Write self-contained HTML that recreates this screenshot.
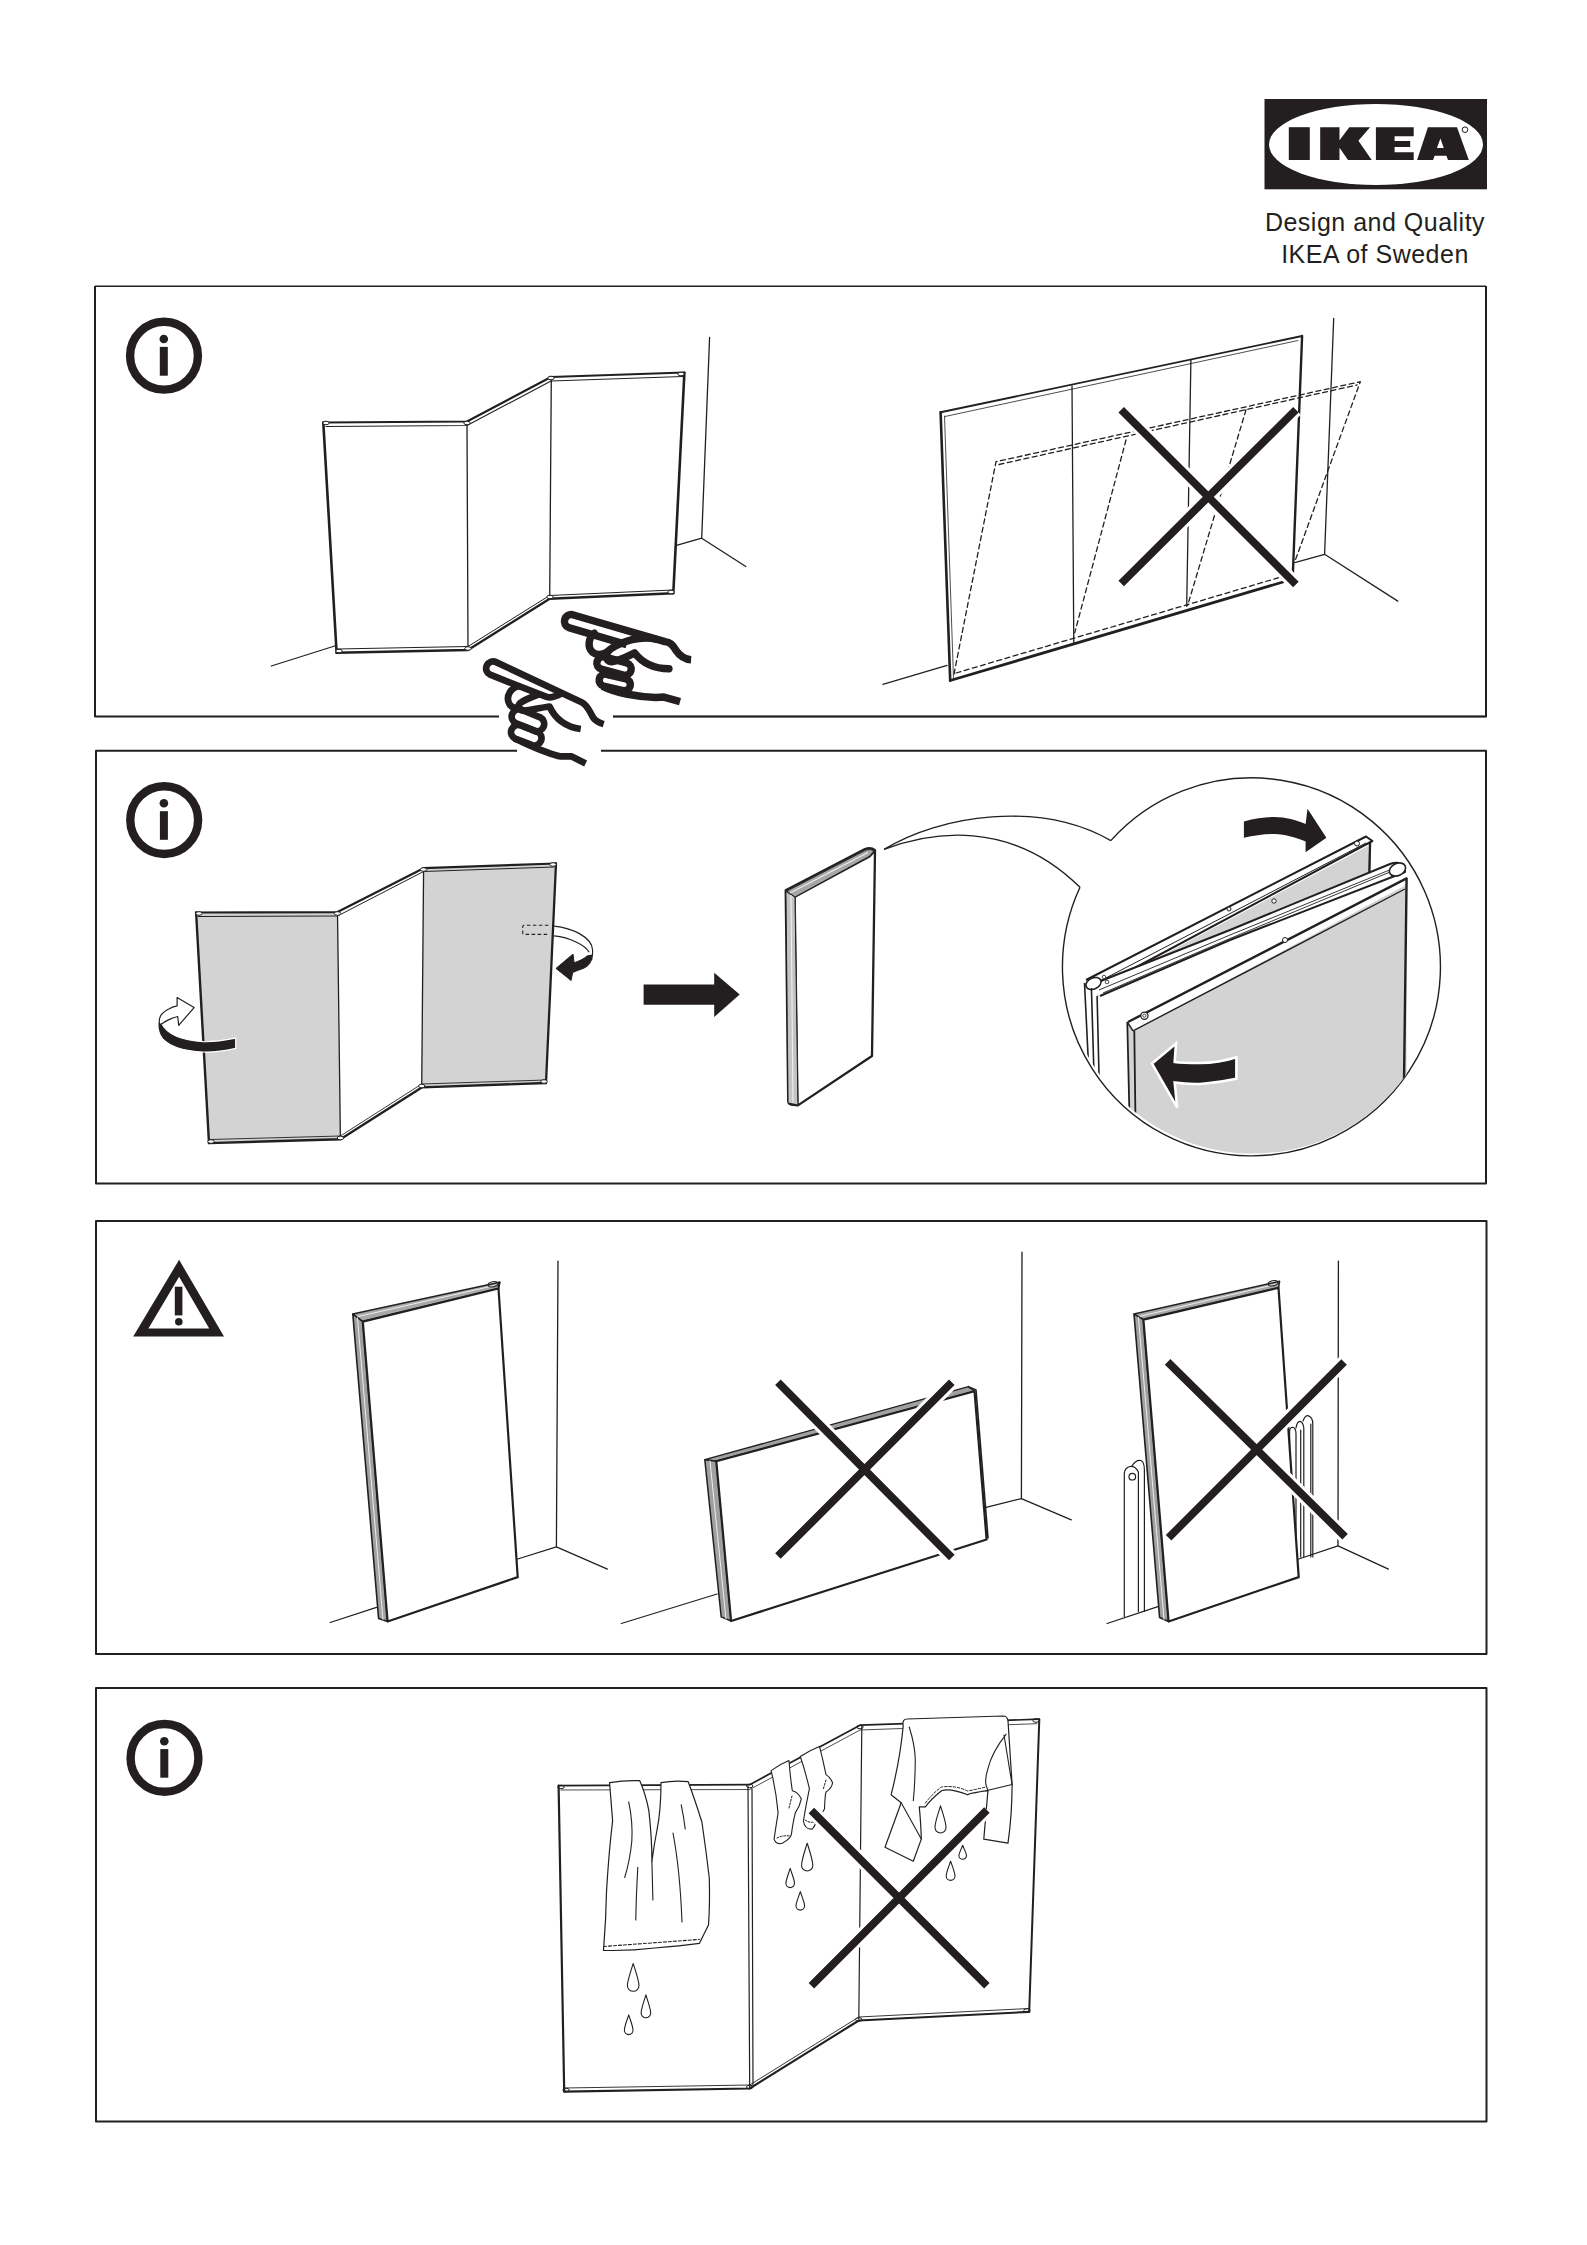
<!DOCTYPE html>
<html><head><meta charset="utf-8">
<style>
html,body{margin:0;padding:0;background:#fff;}
body{width:1587px;height:2245px;position:relative;overflow:hidden;font-family:"Liberation Sans",sans-serif;}
svg{position:absolute;left:0;top:0;}
.t{position:absolute;color:#231f20;font-size:25px;letter-spacing:0.5px;white-space:nowrap;text-align:center;line-height:32px;}
</style></head><body>
<svg width="1587" height="2245" viewBox="0 0 1587 2245" stroke-linejoin="round">
<defs>
<clipPath id="circ"><circle cx="1253" cy="965" r="188.5"/></clipPath>
</defs>
<!-- FRAMES -->
<g fill="none" stroke="#231f20" stroke-width="2">
<path d="M613,716.5 H1486 V286.3 M1486,286.3 H95" stroke-width="1.6"/><path d="M95,286 V716.5 H499 M613,716.5 H1486 V286"/>
<path d="M517,750.7 H96 V1183.4 H1486 V750.7 H601"/>
<rect x="96" y="1221" width="1390.5" height="433"/>
<rect x="96" y="1688" width="1390.5" height="433.6"/>
</g>
<!-- IKEA LOGO -->
<g fill="#231f20">
<rect x="1264.5" y="99" width="222.5" height="90.3"/>
<ellipse cx="1376" cy="144.5" rx="107" ry="40.5" fill="#fff"/>
<rect x="1288.8" y="127.2" width="21" height="32.8"/>
<polygon points="1320.2,127.2 1339.5,127.2 1339.5,140.2 1349.3,127.2 1370.1,127.2 1358.4,140.8 1371.7,160 1348,160 1339.5,147.7 1339.5,160 1320.2,160"/>
<polygon points="1375.9,127.3 1413.7,127.3 1413.7,136.3 1394.6,136.3 1394.6,141.1 1410.2,141.1 1410.2,147 1394.6,147 1394.6,152.2 1413.7,152.2 1413.7,159.9 1375.9,159.9"/>
<path d="M1417.1,159.9 L1427.9,127.3 L1457,127.3 L1468.8,159.9 L1448,159.9 L1446.4,155.7 L1434.6,155.7 L1433.1,159.9 Z M1440.4,138.4 L1436.9,148.1 L1443.8,148.1 Z" fill-rule="evenodd"/>
<circle cx="1465" cy="129.7" r="2.8" fill="none" stroke="#231f20" stroke-width="1"/>
</g>
<!-- ICONS -->
<g fill="#231f20">
<circle cx="164" cy="355.7" r="33.9" fill="none" stroke="#231f20" stroke-width="8.4"/><circle cx="163.8" cy="339" r="4.3"/><rect x="159.8" y="346.9" width="8" height="28.8"/>
<circle cx="164.2" cy="820.1" r="33.9" fill="none" stroke="#231f20" stroke-width="8.4"/><circle cx="163.9" cy="803.3" r="4.3"/><rect x="159.9" y="811.2" width="8" height="28.6"/>
<circle cx="164.5" cy="1757.9" r="33.9" fill="none" stroke="#231f20" stroke-width="8.4"/><circle cx="164.3" cy="1741.2" r="4.3"/><rect x="160.3" y="1749.1" width="8" height="28.6"/>
<path d="M179.1,1259.8 L224,1336.6 L133.2,1336.6 Z M179.1,1276.8 L148.4,1328.6 L209.2,1328.6 Z" fill-rule="evenodd"/>
<rect x="174.8" y="1286.7" width="7.6" height="28.7"/><circle cx="178.8" cy="1321.8" r="3.8"/>
</g>
<!--P1-->
<g fill="none" stroke="#231f20" stroke-linecap="round">
<!-- screen left: floor & wall -->
<path d="M271.3,666 L334.7,646" stroke-width="1.3"/>
<path d="M709.6,337.3 L701.7,538.2 L745.8,566.5 M676.5,545.3 L701.7,538.2" stroke-width="1.3"/>
<!-- panel A -->
<path d="M323.3,422.5 L336.6,652.7" stroke-width="2.6"/>
<path d="M323.3,422.5 L467,421.5 L551,377 L684.4,372.5" stroke-width="2.2"/>
<path d="M326,426.5 L467,425.5 L551,381 L683,376.5" stroke-width="1.1"/>
<path d="M336.6,652.7 L468,650 L549.7,598.8 L673.3,593.3" stroke-width="2.4"/>
<path d="M337,649 L468,646.5 L549.5,595.5 L673,590" stroke-width="1"/>
<path d="M467,423 L468,650 M551.3,378 L549.7,598.8" stroke-width="1.3"/>
<path d="M684.4,372.8 L673.3,593.3" stroke-width="2.6"/>
</g>
<!-- hands -->
<g id="hand" transform="translate(480,650) scale(0.08191)" fill="none" stroke="#231f20" stroke-width="82" stroke-linecap="butt" stroke-linejoin="round">
<path d="M1510,905 C1460,890 1415,870 1385,830 C1340,760 1320,675 1240,637 L196,148 A85,85 0 0 0 124,302 L820,575 C880,590 940,560 1000,528"/>
<path d="M480,442 C370,460 320,560 350,640 C370,710 450,720 510,680"/>
<path d="M720,540 C640,570 560,600 500,640 C450,680 470,740 540,740 C650,730 760,700 850,690 C900,800 1000,930 1230,965"/>
<path d="M504,727 L734,822 A90,90 0 0 1 666,988 L436,893 A90,90 0 0 1 504,727 Z"/>
<path d="M491,918 L701,998 A88,88 0 0 1 639,1162 L429,1082 A88,88 0 0 1 491,918 Z"/>
<path d="M420,1080 C560,1140 800,1265 990,1300 L1120,1300 L1290,1385"/>
</g>
<g transform="translate(550,600) scale(0.1008)" fill="none" stroke="#231f20" stroke-width="74" stroke-linecap="butt" stroke-linejoin="round">
<path d="M1400,592 C1330,588 1290,560 1250,500 C1215,440 1190,420 1140,413 L224,146 A67,67 0 0 0 186,274 L760,442"/>
<path stroke-linecap="round" d="M440,330 C380,370 370,470 420,515 C460,550 520,545 570,515"/>
<path stroke-linecap="round" d="M1050,388 C900,350 720,410 610,480 C540,525 545,610 610,612 C700,600 770,560 840,525 C890,590 980,680 1180,682"/>
<path d="M541.3,565.2 L761.3,625.2 A62,62 0 0 1 728.7,744.8 L508.7,684.8 A62,62 0 0 1 541.3,565.2 Z"/>
<path d="M558.5,736.6 L753.5,781.6 A60,60 0 0 1 726.5,898.4 L531.5,853.4 A60,60 0 0 1 558.5,736.6 Z"/>
<path d="M520,855 C650,925 880,960 1050,968 L1130,963 L1290,1008"/>
</g>
<!-- screen right -->
<g fill="none" stroke="#231f20" stroke-linecap="round">
<path d="M882.9,684.3 L947.1,665.4" stroke-width="1.3"/>
<path d="M1333.7,318.3 L1324.6,554.3 L1397.8,601.1 M1294.8,562.6 L1324.6,554.3" stroke-width="1.3"/>
<path d="M940.6,412.3 L950.2,680.5" stroke-width="2.6"/>
<path d="M944.5,416 L953.5,678" stroke-width="0.8"/>
<path d="M940.6,412.3 L1302.1,336" stroke-width="1.9"/>
<path d="M945,416.5 L1298,340.5" stroke-width="0.8"/>
<path d="M1302.1,336 L1292.7,578" stroke-width="2.4"/>
<path d="M950.2,680.5 L1283,582" stroke-width="2.8"/>
<path d="M1072,385.9 L1073.8,644.3 M1190.9,359.9 L1186.7,606.3" stroke-width="1.3"/>
<g stroke-width="1.3" stroke-dasharray="5,3.5">
<path d="M954,674 L996,461.7 L1360.3,381.7 L1294.8,561.6"/>
<path d="M999,464.5 L1357,385"/>
<path d="M1126,440 L1074.7,632.9 M1246,409.8 L1187.7,605.3"/>
<path d="M956,673 L1281,577"/>
</g>
</g>
<g stroke-linecap="butt">
<path d="M1121.2,409.8 L1295.9,584.5 M1121.2,583.4 L1295.9,409.8" stroke="#fff" stroke-width="14"/>
<path d="M1121.2,409.8 L1295.9,584.5 M1121.2,583.4 L1295.9,409.8" stroke="#231f20" stroke-width="7.8"/>
</g>

<!--P2-->
<g stroke="#231f20" stroke-linejoin="round" stroke-linecap="round">
<!-- left gray panel -->
<polygon points="196.1,912.5 337.5,912.1 340.4,1139.3 209,1143.1" fill="#d3d3d3" stroke="none"/>
<polygon points="423.6,868.2 556,863.5 546,1083 421.7,1087.4" fill="#d3d3d3" stroke="none"/>
<path d="M196.1,912.5 L209,1143.1" fill="none" stroke-width="2.4"/>
<path d="M196.1,912.5 L337.5,912.1 L423.6,868.2 L556,863.5" fill="none" stroke-width="2.2"/>
<path d="M198,916.5 L337.5,916 L423.6,871.5 L554,867" fill="none" stroke-width="1"/>
<path d="M209,1143.1 L340.4,1139.3 L421.7,1087.4 L546,1083" fill="none" stroke-width="2.4"/>
<path d="M210,1139.5 L340.4,1136 L421.7,1084 L546,1080" fill="none" stroke-width="0.9"/>
<path d="M337.5,912.1 L340.4,1139.3" fill="none" stroke-width="1.3"/>
<!-- right gray panel -->
<path d="M423.6,868.2 L421.7,1087.4" fill="none" stroke-width="1.3"/>
<path d="M556,863.5 L546,1083" fill="none" stroke-width="2.3"/>
<!-- dashed rect -->
<path d="M548.4,925.3 H524 Q522.7,925.3 522.7,927 V932.7 Q522.7,934.4 524,934.4 H548.4" fill="none" stroke-width="1.1" stroke-dasharray="3.5,2.5" stroke-linecap="butt"/>
</g>
<!-- left rotate arrow -->
<g stroke-linejoin="round">
<path d="M235.7,1038.2 C221,1041 211,1042 203.6,1041.7 C193,1041 184,1039.5 177,1036.5 C169,1033 164,1028.5 161.5,1023 L158,1022 C157.5,1028 158.5,1034 162.6,1039 C167,1043.5 172,1046 178,1048 C186,1050.5 194,1051.5 203,1052 C213,1052.5 226,1050.5 235.7,1048.3 Z" fill="#231f20" stroke="#fff" stroke-width="1.2"/>
<path d="M159.5,1024.5 C158.8,1019 160,1015.5 162.6,1013.3 C165,1010.8 167,1010 168.9,1008.9 C171.5,1007.3 174,1006.5 177.1,1005.8 L177.1,997.6 L194.1,1007.6 L178.7,1025.3 L177.7,1016.5 C174,1017.5 171.5,1018.5 168.9,1019.6 C166,1021 164,1022.2 162.6,1023.4 Z" fill="#fff" stroke="#231f20" stroke-width="1.2"/>
</g>
<!-- right rotate arrow -->
<g stroke="#231f20" fill="none">
<path d="M554.1,926.1 C572,928 592,937 592.6,950 C592.8,955 592,958 591.5,960.5" stroke-width="1.2"/>
<path d="M554.1,935.9 C570,937.5 585,945 589.2,952.2" stroke-width="1.2"/>
<path d="M591.5,955 C592,962 589,966 583,968.5 C579,970 576,971 572.6,972.6 L571.1,980.5 L556,968.4 L573,954.1 L574.1,962.8 C579,961 584,959 587,956 Z" fill="#231f20" stroke-width="1"/>
</g>
<!-- big arrow -->
<polygon points="643.6,984.6 714.2,984.6 714.2,972.7 739.7,994.5 714.2,1016.9 714.2,1004.7 643.6,1004.7" fill="#231f20"/>
<!-- folded panel -->
<g fill="none" stroke="#231f20" stroke-linejoin="round">
<path d="M785.7,890.2 L865,849 Q871,847 875,850.2 L872,1056 L797.9,1105.4 L791,1104.5 Q788.2,1103.7 788.2,1101 Z" fill="#fff" stroke-width="2.3"/>
<path d="M795,896.5 L797.9,1105.4" stroke-width="1.6"/>
<path d="M791,893.5 L793,1104" stroke-width="0.8"/>
<path d="M795,897 L870,856.5 L875,851" stroke-width="1.6"/>
<path d="M787,891 L866,850 Q871,848.5 874,851 L869,856.5 L795,897 Z" fill="#a6a6a6" stroke-width="1"/>
<path d="M790,893 L868,852.5" stroke="#eee" stroke-width="1.1"/>
<path d="M786.5,892 L795,897 L797.9,1105 L788.6,1103" fill="#c4c4c4" stroke-width="1"/>
<path d="M791,895 L793,1103" stroke="#f0f0f0" stroke-width="1.1"/>
</g>
<!-- callout -->
<g fill="none" stroke="#231f20" stroke-width="1.4">
<path d="M884.1,849.4 C940,815 1040,800 1110.8,840.6"/>
<path d="M884.1,849.4 C930,832 1010,818 1080,887.3"/>
<path d="M1110.8,840.6 A189,189 0 1 1 1080,887.3"/>
</g>
<!-- inset -->
<g clip-path="url(#circ)" stroke="#231f20" stroke-linejoin="round">
<!-- back panel face -->
<polygon points="1097,990 1368,846 1370,878 1097,1030" fill="#d3d3d3" stroke="none"/>
<path d="M1370,843 L1369.3,876" fill="none" stroke-width="2.4"/>
<!-- back panel top band -->
<path d="M1086,980 L1366,836.5 L1372.4,841 L1101,986" fill="#fff" stroke-width="2"/>
<path d="M1100,981 L1366,843" fill="none" stroke-width="1"/>
<circle cx="1357" cy="843.5" r="2.5" fill="#fff" stroke-width="1"/>
<circle cx="1229" cy="909" r="2" fill="#fff" stroke-width="1"/>
<!-- middle panel: white face and top band -->
<polygon points="1097.7,996.8 1396,869 1405.8,877 1405.8,950 1127.3,1100 1097,1100" fill="#fff" stroke="none"/>
<path d="M1088,986 L1230,930 L1390,864 Q1400,860 1405,868 L1405,872 L1230,940 L1100,996" fill="#fff" stroke-width="2"/>
<path d="M1099,990 L1230,935 L1392,869" fill="none" stroke-width="0.9"/>
<path d="M1103,993 L1230,938.5 L1390,872" fill="none" stroke-width="0.9"/>
<ellipse cx="1093.5" cy="983.5" rx="8" ry="5.5" transform="rotate(-25 1093.5 983.5)" fill="#fff" stroke-width="1.6"/>
<ellipse cx="1397.5" cy="869.5" rx="8.5" ry="6" transform="rotate(-25 1397.5 869.5)" fill="#fff" stroke-width="1.6"/>
<circle cx="1274" cy="901" r="2.2" fill="#fff" stroke-width="1"/>
<circle cx="1104" cy="977" r="1.8" fill="#fff" stroke-width="0.8"/>
<circle cx="1107" cy="982" r="1.8" fill="#fff" stroke-width="0.8"/>
<!-- left thickness lines -->
<path d="M1084.5,982.9 L1089,1075 M1091.4,988 L1094,1075 M1097.1,996 L1099,1075" fill="none" stroke-width="1.6"/>
<!-- front panel -->
<polygon points="1128,1022 1406.6,878.4 1406.6,1160 1130.5,1160" fill="#d3d3d3" stroke="none"/>
<polygon points="1128,1022 1406.6,878.4 1404,886 1134,1030.5" fill="#fff" stroke="none"/>
<path d="M1128,1022 L1406.6,878.4 L1403,1160" fill="none" stroke-width="2.4"/>
<path d="M1133,1030.8 L1405,889" fill="none" stroke-width="1.4"/>
<path d="M1127.3,1022 L1130.5,1160 M1134.3,1031 L1136,1160" fill="none" stroke-width="1.8"/>
<path d="M1127.3,1022 L1133,1030.8" fill="none" stroke-width="1.4"/>
<circle cx="1144.4" cy="1015.7" r="3.6" fill="#fff" stroke-width="1.2"/>
<circle cx="1144.4" cy="1015.7" r="1.6" fill="none" stroke-width="0.8"/>
<circle cx="1285" cy="940" r="2.5" fill="#fff" stroke-width="1"/>
</g>
<!-- inset arrows -->
<path d="M1243.9,821.4 C1255,818.5 1265,817 1274.1,817 C1286,817 1296,820 1305.6,823.9 L1307.5,808.8 L1326.4,837.8 L1305.6,852.3 L1305.6,841.6 C1296,837.5 1286,834.5 1274.1,834 C1264,834 1254,835.5 1243.9,837.8 Z" fill="#231f20"/>
<path d="M1236.4,1057.3 C1225,1061 1212,1063 1200,1063 C1190,1063 1182,1063 1174.7,1062 L1176,1043.5 L1152,1063.6 L1177.2,1107.7 L1174.7,1082.5 C1185,1084 1195,1084.5 1205,1083.5 C1217,1082.5 1228,1080.5 1236.4,1078.7 Z" fill="#231f20" stroke="#fff" stroke-width="2.6" stroke-linejoin="miter"/>

<g fill="#fff" stroke="#231f20" stroke-width="1"><ellipse cx="326" cy="423" rx="3.2" ry="1.8"/><ellipse cx="467" cy="423" rx="3.2" ry="1.8"/><ellipse cx="551" cy="378" rx="3.2" ry="1.8"/><ellipse cx="681" cy="374" rx="3.2" ry="1.8"/><ellipse cx="339" cy="651" rx="3.2" ry="1.8"/><ellipse cx="468" cy="648.5" rx="3.2" ry="1.8"/><ellipse cx="550" cy="597" rx="3.2" ry="1.8"/><ellipse cx="671" cy="592" rx="3.2" ry="1.8"/><ellipse cx="199" cy="913.5" rx="3.2" ry="1.8"/><ellipse cx="337.5" cy="913.5" rx="3.2" ry="1.8"/><ellipse cx="423.6" cy="869.5" rx="3.2" ry="1.8"/><ellipse cx="553" cy="864.5" rx="3.2" ry="1.8"/><ellipse cx="211" cy="1141.5" rx="3.2" ry="1.8"/><ellipse cx="340.4" cy="1138" rx="3.2" ry="1.8"/><ellipse cx="421.7" cy="1086" rx="3.2" ry="1.8"/><ellipse cx="544" cy="1081.5" rx="3.2" ry="1.8"/><ellipse cx="561" cy="1787" rx="3.2" ry="1.8"/><ellipse cx="749.7" cy="1786" rx="3.2" ry="1.8"/><ellipse cx="860" cy="1727" rx="3.2" ry="1.8"/><ellipse cx="1036" cy="1720.5" rx="3.2" ry="1.8"/><ellipse cx="566" cy="2090" rx="3.2" ry="1.8"/><ellipse cx="749.7" cy="2087" rx="3.2" ry="1.8"/><ellipse cx="858.8" cy="2019.5" rx="3.2" ry="1.8"/><ellipse cx="1027" cy="2010.5" rx="3.2" ry="1.8"/></g>
<!--P3-->
<g fill="none" stroke="#231f20" stroke-linejoin="round" stroke-linecap="round">
<!-- drawing 1 -->
<path d="M558,1261.1 L556.4,1546.9 L607.4,1569.1 M517.7,1559 L556.4,1546.9" stroke-width="1.3"/>
<path d="M330.2,1622.5 L376.5,1607.4" stroke-width="1.3"/>
<path d="M352.8,1314.1 L499.6,1282.3 L498.5,1288.5 L362.8,1321.6 Z" fill="#a8a8a8" stroke-width="1.5"/>
<path d="M356,1317 L497,1285" stroke="#eee" stroke-width="1"/>
<path d="M352.8,1314.1 L362.8,1321.6 L387.6,1621.5 L378.6,1618.5 Z" fill="#a0a0a0" stroke-width="1.6"/>
<path d="M357.5,1318 L383,1619.5" stroke="#eee" stroke-width="1"/>
<path d="M362.8,1321.6 L498.5,1288.5 L517.7,1577.1 L387.6,1621.5 Z" fill="#fff" stroke-width="2.2"/>
<path d="M499.6,1282.3 L498.5,1287.3" stroke-width="2"/>
<ellipse cx="493" cy="1284.3" rx="5" ry="2.5" transform="rotate(-12 493 1284.3)" stroke-width="1"/>
<!-- drawing 2 -->
<path d="M1022,1252.1 L1021.4,1498.6 L1071.3,1519.8 M985,1507.7 L1021.4,1498.6" stroke-width="1.3"/>
<path d="M621.3,1623.5 L717.1,1594" stroke-width="1.3"/>
<path d="M704.8,1459.7 L968.4,1386.7 L974.5,1391.2 L716.3,1461.3 Z" fill="#a0a0a0" stroke-width="1.4"/>
<path d="M704.8,1459.7 L716.3,1461.3 L731.1,1621 L721.2,1616.9 Z" fill="#a0a0a0" stroke-width="1.5"/>
<path d="M710,1461 L726,1619" stroke="#eee" stroke-width="1"/>
<path d="M716.3,1461.3 L974.5,1391.2 L986.6,1539.5 L731.1,1621 Z" fill="#fff" stroke-width="2.2"/>
<path d="M968.4,1386.7 L976,1390 L988,1538" stroke-width="1.6"/>
<!-- drawing 3 -->
<path d="M1338.4,1261.1 L1338,1545.9 L1388.4,1569.1 M1298.7,1559 L1338,1545.9" stroke-width="1.3"/>
<path d="M1107.1,1623.5 L1158.6,1606.4" stroke-width="1.3"/>
<!-- radiator left -->
<path d="M1124.3,1616.4 L1124.3,1474 Q1124.3,1468 1130,1466.5 Q1135,1465.5 1138.4,1472 L1138.4,1611.4" stroke-width="1.2"/>
<path d="M1132,1466 Q1136,1459.5 1141,1460.5 Q1144.4,1462 1144.4,1470.2 L1144.4,1611.4" stroke-width="1.2"/>
<circle cx="1132.3" cy="1476.7" r="3.3" stroke-width="1.2"/>
<!-- radiator right -->
<path d="M1289.6,1556.9 L1289.6,1431 Q1290,1426.5 1293.5,1427.5 Q1296,1429 1296,1434 L1296,1556.9" stroke-width="1.2"/>
<path d="M1296,1428 Q1297,1421.4 1300,1421.4 Q1303,1422 1303.8,1428 L1303.8,1556.9" stroke-width="1.2"/>
<path d="M1303,1421 Q1305,1415.4 1308,1415.6 Q1312.8,1417 1312.8,1424 L1312.8,1556.9 M1310.8,1424 L1310.8,1556.9 M1300.7,1430 L1300.7,1556.9" stroke-width="1.2"/>
<path d="M1134,1314.1 L1279.6,1281.3 L1278.5,1287.8 L1143.4,1319.6 Z" fill="#a8a8a8" stroke-width="1.5"/>
<path d="M1137,1317 L1277,1284" stroke="#eee" stroke-width="1"/>
<path d="M1134,1314.1 L1143.4,1319.6 L1168.6,1621.5 L1159.6,1617.5 Z" fill="#a0a0a0" stroke-width="1.6"/>
<path d="M1138.5,1317.5 L1164,1619.5" stroke="#eee" stroke-width="1"/>
<path d="M1143.4,1319.6 L1278.5,1287.8 L1298.7,1577.1 L1168.6,1621.5 Z" fill="#fff" stroke-width="2.2"/>
<ellipse cx="1273" cy="1283.3" rx="5" ry="2.5" transform="rotate(-12 1273 1283.3)" stroke-width="1"/>
</g>
<g stroke-linecap="butt">
<path d="M777.9,1382.2 L951.8,1557.6 M777.9,1556.1 L951.8,1382.2 M1167.6,1361.9 L1345.1,1536.8 M1168.6,1537.8 L1344.1,1361.9" stroke="#fff" stroke-width="14"/>
<path d="M777.9,1382.2 L951.8,1557.6 M777.9,1556.1 L951.8,1382.2 M1167.6,1361.9 L1345.1,1536.8 M1168.6,1537.8 L1344.1,1361.9" stroke="#231f20" stroke-width="7.8"/>
</g>

<!--P4-->
<g fill="none" stroke="#231f20" stroke-linejoin="round" stroke-linecap="round">
<!-- left panel -->
<path d="M558.6,1785.7 L564.2,2091.6" stroke-width="2.2"/>
<path d="M558.6,1785.7 L749.7,1784.7 L860,1725.2 L1039.3,1719.2" stroke-width="1.7"/>
<path d="M561,1790 L749.7,1789.5 L860,1730 L1037,1723.7" stroke-width="0.8"/>
<path d="M564.2,2091.6 L749.7,2088.5 L858.8,2020.5 L1029.2,2011.9" stroke-width="2.1"/>
<path d="M565,2088 L749.7,2085 L858.8,2017 L1029,2008.5" stroke-width="0.9"/>
<path d="M748,1786 L749.7,2088.5 M752,1789 L753,2085" stroke-width="1.2"/>
<path d="M861.8,1726.2 L858.8,2019" stroke-width="1.2"/>
<path d="M1039.3,1719.2 L1029.2,2011.9" stroke-width="2"/>
<!-- towel -->
<path d="M661,1782.7 Q675,1780 688.2,1781.7 Q695,1800 701.9,1822 Q706,1850 709.3,1878 Q710,1905 708.5,1925 L699.3,1943.4 Q680,1946 655,1948 Q630,1951 603.5,1950.4 Q606,1920 606.5,1891.6 Q609,1850 612.6,1821 Q611,1800 609.6,1782.7 Q625,1780 639.8,1780.7 Q646,1795 648.9,1810.9 Q652,1840 651.9,1861.3 Q654,1845 657,1830 Q661,1810 661,1782.7 Z" fill="#fff" stroke-width="1.2"/>
<path d="M603.5,1946.5 L699.3,1939.4" stroke-width="1.1" stroke-dasharray="3,2"/>
<path d="M628.7,1801.8 Q633,1822 631.8,1841.2 Q630,1860 624.7,1877.5 M637.8,1867.4 Q636,1900 635.8,1920 M681.2,1804.9 Q684,1818 685.2,1829 M673,1833 Q680,1870 682,1922 M651.9,1861.3 L652.9,1900" stroke-width="1.1"/>
<!-- socks -->
<path d="M771.1,1770.6 Q776,1790 778.1,1812.9 Q776,1826 774.1,1839.1 Q776,1845 782.2,1843.2 Q789,1840 791.3,1835.1 Q793,1822 795.3,1812.9 Q800,1806 801.3,1798.8 Q798,1792 792.3,1790.7 Q790,1775 789,1760.5 Q780,1764 771.1,1770.6 Z" fill="#fff" stroke-width="1.1"/>
<path d="M777,1838 Q783,1835 790,1836 M792,1796 L789,1808" stroke-width="1" stroke-dasharray="2,1.5"/>
<path d="M800.3,1756.5 Q805,1770 809.4,1788.7 Q806,1805 803.4,1821 Q805,1830 812.4,1829 Q815,1826 816,1822 Q821,1815 824.5,1808.9 Q825,1795 826,1792 Q832,1788 832.6,1782.7 Q830,1777 826,1774.6 Q823,1760 819.5,1746.4 Q810,1750 800.3,1756.5 Z" fill="#fff" stroke-width="1.1"/>
<path d="M826,1780 L823,1790 M805,1820 Q809,1823 814,1822" stroke-width="1" stroke-dasharray="2,1.5"/>
<!-- shirt -->
<path d="M903.2,1726 Q902,1719 907,1719 L1003,1716 Q1007.5,1716 1008,1721 L1012.1,1784.7 Q1012,1815 1008,1843.2 L983.8,1839.1 L987.9,1790.7 Q970,1793 967.7,1794.8 Q950,1788 941.5,1790.7 Q930,1800 925.4,1806.9 L919.3,1806.9 Q921,1825 921.3,1839.1 L913.3,1861.3 L885,1847.2 L901.2,1802.8 L891.1,1794.8 Q900,1760 903.2,1726 Z" fill="#fff" stroke-width="1.2"/>
<path d="M909.2,1727 Q915,1745 915.3,1760 Q915,1785 913.3,1800.8 M901.2,1802.8 L921.3,1839.1 M1006,1734.3 Q992,1752 987.9,1768.6 Q985,1778 985.9,1784.7 L987.9,1790.7 M1004,1735 L1012.1,1784.7 M985.9,1790.7 L1011.1,1784.7" stroke-width="1.1"/>
<path d="M925.4,1803 Q933,1793 941.5,1787 Q955,1785 967.7,1791 Q978,1789 985.9,1787" stroke-width="1" stroke-dasharray="2.5,1.8"/>
</g>
<!-- drops -->
<g fill="#fff" stroke="#231f20" stroke-width="1.1">
<path d="M633.2,1963.5 C636,1972 639,1981 639,1985.5 A5.8,5.8 0 0 1 627.4,1985.5 C627.4,1981 630.4,1972 633.2,1963.5 Z"/>
<path d="M645.9,1994.8 C648,2002 650.7,2009 650.7,2013 A4.8,4.8 0 0 1 641.1,2013 C641.1,2009 643.8,2002 645.9,1994.8 Z"/>
<path d="M628.7,2014.9 C630.7,2021 633,2026.5 633,2030.3 A4.3,4.3 0 0 1 624.4,2030.3 C624.4,2026.5 626.7,2021 628.7,2014.9 Z"/>
<path d="M807.2,1843.2 C810,1852 812.8,1860 812.8,1865.4 A5.6,5.6 0 0 1 801.6,1865.4 C801.6,1860 804.4,1852 807.2,1843.2 Z"/>
<path d="M790.2,1868.4 C792.3,1875 794.5,1880 794.5,1883.3 A4.3,4.3 0 0 1 785.9,1883.3 C785.9,1880 788.1,1875 790.2,1868.4 Z"/>
<path d="M800.3,1891.6 C802.4,1898 804.6,1903 804.6,1905.8 A4.3,4.3 0 0 1 796,1905.8 C796,1903 798.2,1898 800.3,1891.6 Z"/>
<path d="M940.5,1805.9 C943,1814 946,1822 946,1827.5 A5.5,5.5 0 0 1 935,1827.5 C935,1822 938,1814 940.5,1805.9 Z"/>
<path d="M962.7,1845.2 C964.5,1850 966.5,1853.5 966.5,1855.5 A3.8,3.8 0 0 1 958.9,1855.5 C958.9,1853.5 960.9,1850 962.7,1845.2 Z"/>
<path d="M950.6,1861.3 C952.8,1867.5 955,1872.5 955,1876 A4.4,4.4 0 0 1 946.2,1876 C946.2,1872.5 948.4,1867.5 950.6,1861.3 Z"/>
</g>
<g stroke-linecap="butt">
<path d="M811.4,1810.4 L986.9,1985.7 M811.4,1985.7 L986.9,1809.9" stroke="#fff" stroke-width="14"/>
<path d="M811.4,1810.4 L986.9,1985.7 M811.4,1985.7 L986.9,1809.9" stroke="#231f20" stroke-width="7.8"/>
</g>

</svg>
<div class="t" style="left:1225px;top:206px;width:300px;">Design and Quality</div>
<div class="t" style="left:1225px;top:238px;width:300px;">IKEA of Sweden</div>
</body></html>
